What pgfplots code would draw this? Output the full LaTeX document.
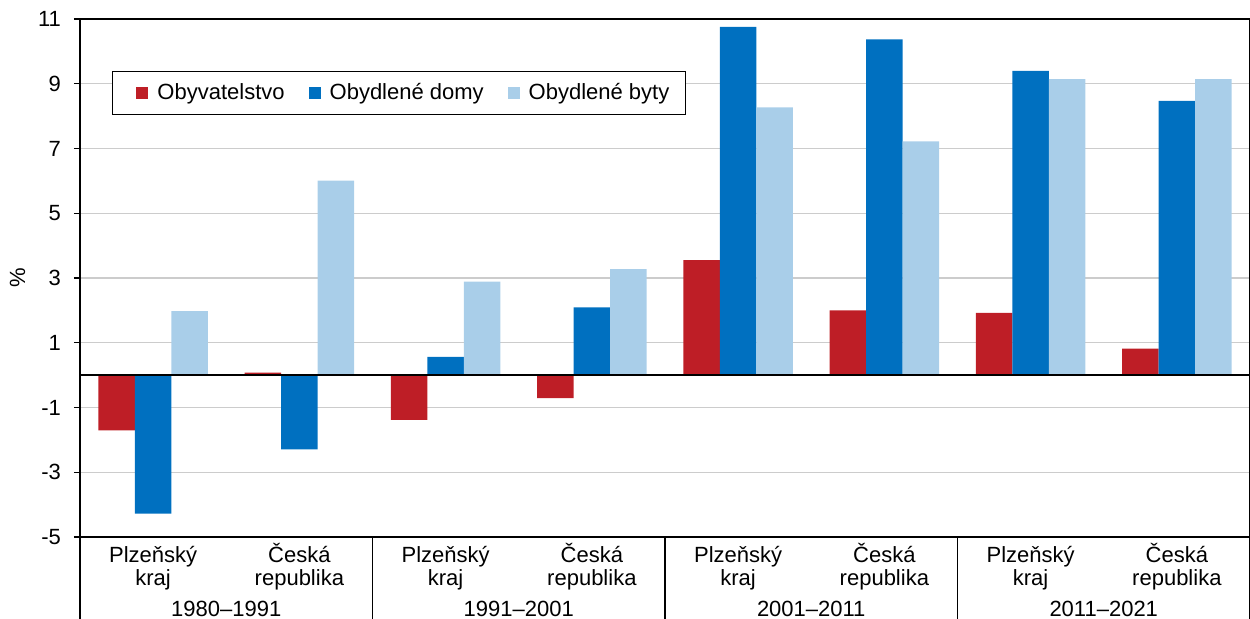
\documentclass[border=0pt]{standalone}
\usepackage{fontspec}
\setmainfont{Liberation Sans}
\usepackage{pgfplots}
\pgfplotsset{compat=1.18}
\definecolor{cred}{RGB}{190,30,38}
\definecolor{cdark}{RGB}{0,112,192}
\definecolor{clight}{RGB}{169,206,233}
\newcommand{\cz}{\vphantom{Č}}
\begin{document}
\begin{tikzpicture}
\begin{axis}[
  at={(0,0)}, anchor=south west,
  scale only axis, width=585pt, height=259pt,
  xmin=-0.5, xmax=7.5, ymin=-5, ymax=11,
  ytick={-5,-3,...,11},
  ymajorgrids, major grid style={line width=0.6pt, color=black!20},
  axis line style={line width=0.8pt},
  tick align=outside, major tick length=3pt,
  ytick style={line width=0.6pt, black},
  xtick={0,...,7}, xtick style={draw=none},
  xticklabels={{\cz Plzeňský\\kraj},{\cz Česká\\republika},{\cz Plzeňský\\kraj},{\cz Česká\\republika},{\cz Plzeňský\\kraj},{\cz Česká\\republika},{\cz Plzeňský\\kraj},{\cz Česká\\republika}},
  xticklabel style={align=center, font=\fontsize{11}{11.5}\selectfont, yshift=3.5pt},
  /pgf/number format/assume math mode=true,
  yticklabel style={font=\fontsize{11}{12}\selectfont, xshift=-3pt},
  ylabel={\%},
  ylabel style={font=\fontsize{11}{12}\selectfont, at={(axis description cs:0,0.5)}, anchor=center, yshift=31.25pt},
  ybar=0pt, bar width=0.25,
  clip=false,
  legend columns=3,
  legend image code/.code={\path (-6pt,0pt) (8.5pt,0pt); \draw[#1,draw=none] (0pt,-3pt) rectangle (6pt,3pt);},
  legend style={at={(axis description cs:0.02735,0.8996)}, anchor=north west,
    draw=black, line width=0.5pt, font=\fontsize{11}{12}\selectfont,
    inner xsep=6pt, inner ysep=4pt,
    /tikz/every even column/.append style={column sep=4pt}},
]
\addplot[fill=cred, draw=none] coordinates {(0,-1.71) (1,0.08) (2,-1.38) (3,-0.71) (4,3.55) (5,2.00) (6,1.92) (7,0.82)};
\addplot[fill=cdark, draw=none] coordinates {(0,-4.28) (1,-2.29) (2,0.56) (3,2.09) (4,10.76) (5,10.37) (6,9.40) (7,8.47)};
\addplot[fill=clight, draw=none] coordinates {(0,1.98) (1,6.01) (2,2.89) (3,3.27) (4,8.27) (5,7.22) (6,9.14) (7,9.14)};
\legend{Obyvatelstvo, Obydlené domy, Obydlené byty}
\draw[line width=0.8pt] (axis cs:-0.5,0) -- (axis cs:7.5,0);
\draw[line width=0.8pt] (axis cs:-0.5,-5) -- ++(0pt,-45pt);
\draw[line width=0.8pt] (axis cs:1.5,-5) -- ++(0pt,-45pt);
\draw[line width=0.8pt] (axis cs:3.5,-5) -- ++(0pt,-45pt);
\draw[line width=0.8pt] (axis cs:5.5,-5) -- ++(0pt,-45pt);
\draw[line width=0.8pt] (axis cs:7.5,-5) -- ++(0pt,-45pt);
\node[anchor=base, font=\fontsize{11}{12}\selectfont, yshift=-40pt] at (axis cs:0.5,-5) {1980–1991};
\node[anchor=base, font=\fontsize{11}{12}\selectfont, yshift=-40pt] at (axis cs:2.5,-5) {1991–2001};
\node[anchor=base, font=\fontsize{11}{12}\selectfont, yshift=-40pt] at (axis cs:4.5,-5) {2001–2011};
\node[anchor=base, font=\fontsize{11}{12}\selectfont, yshift=-40pt] at (axis cs:6.5,-5) {2011–2021};
\end{axis}
\pgfresetboundingbox
\path[use as bounding box] (-40pt,-41pt) rectangle (585pt,268.5pt);
\end{tikzpicture}
\end{document}
